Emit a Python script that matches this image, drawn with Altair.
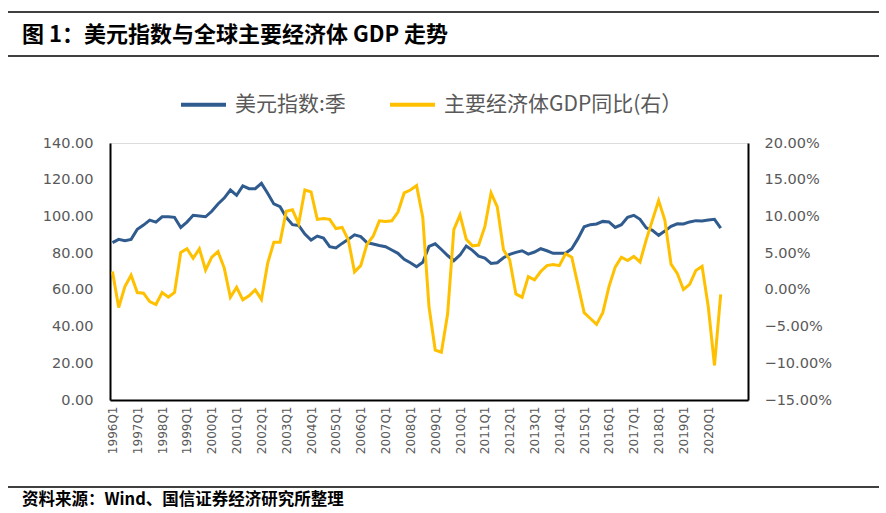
import altair as alt
import pandas as pd

# ---------------- data ----------------
quarters = [f"{y}Q{q}" for y in range(1996, 2022) for q in range(1, 5)][:103]
tick_labels = [f"{y}Q1" for y in range(1996, 2021)]

usd = [85.7, 87.5, 86.8, 87.5, 93.0, 95.3, 98.0, 96.9, 99.8, 99.8,
       99.5, 94.0, 96.9, 100.6, 100.2, 99.8, 102.8, 106.8, 110.0, 114.4,
       111.5, 116.6, 115.1, 115.1, 118.0, 112.6, 106.8, 105.3, 99.5, 95.5,
       95.1, 90.4, 87.1, 89.3, 88.2, 83.5, 82.8, 85.3, 87.5, 90.0,
       89.0, 85.7, 85.0, 84.2, 83.5, 81.7, 79.9, 76.6, 74.8, 72.6,
       75.0, 83.7, 85.1, 82.0, 78.7, 75.9, 79.0, 83.9, 81.5, 78.4,
       77.3, 74.4, 74.8, 77.5, 79.3, 80.4, 81.3, 79.5, 80.6, 82.4,
       81.3, 79.9, 79.9, 79.9, 82.4, 87.9, 94.4, 95.5, 95.9, 97.3,
       97.0, 94.0, 95.5, 99.5, 100.6, 98.4, 93.8, 92.4, 89.7, 92.0,
       94.6, 96.0, 95.9, 97.0, 97.7, 97.5, 98.0, 98.4, 93.6]

gdp = [2.5, -2.4, 0.45, 2.0, -0.36, -0.45, -1.6, -2.0, -0.36, -1.0,
       -0.36, 5.1, 5.6, 4.3, 5.6, 2.7, 4.45, 5.2, 3.0, -1.0,
       0.36, -1.36, -0.8, 0.0, -1.3, 3.6, 6.5, 6.5, 10.7, 10.9,
       9.0, 13.6, 13.35, 9.6, 9.7, 9.6, 8.35, 8.5, 6.8, 2.45,
       3.3, 6.2, 7.3, 9.4, 9.3, 9.4, 10.6, 13.2, 13.6, 14.2,
       9.85, -2.3, -8.2, -8.5, -3.3, 8.2, 10.2, 6.9, 6.0, 6.1,
       8.6, 13.2, 11.3, 5.45, 4.1, -0.55, -1.0, 1.8, 1.36, 2.5,
       3.3, 3.45, 3.3, 4.9, 4.45, 0.68, -3.1, -3.9, -4.7, -3.1,
       0.45, 3.1, 4.45, 4.0, 4.55, 3.8, 6.8, 9.5, 12.15, 9.5,
       3.5, 2.25, 0.05, 0.75, 2.65, 3.2, -2.3, -10.3, -0.6]

series_names = ["美元指数:季", "主要经济体GDP同比(右）"]
colors = ["#2F5B8E", "#FFC000"]
left_ticks = list(range(0, 141, 20))
right_ticks = list(range(-15, 21, 5))

title_text = "图 1：美元指数与全球主要经济体 GDP 走势"
source_text = "资料来源：Wind、国信证券经济研究所整理"

df_usd = pd.DataFrame({"q": quarters[:len(usd)], "v": usd, "s": series_names[0]})
df_gdp = pd.DataFrame({"q": quarters[:len(gdp)], "v": gdp, "s": series_names[1]})

GRAY = "#595959"
CJK = "Noto Sans CJK SC"

# ---------------- encodings ----------------
xenc = alt.X(
    "q:O",
    scale=alt.Scale(type="point", domain=quarters, padding=0.4),
    axis=alt.Axis(values=tick_labels, labelAngle=270, title=None, ticks=False,
                  domainColor="black", domainWidth=2, labelFont="DejaVu Sans",
                  labelFontSize=12, labelColor=GRAY, labelPadding=6),
)

color = alt.Color(
    "s:N",
    scale=alt.Scale(domain=series_names, range=colors),
    legend=alt.Legend(orient="none", direction="horizontal", legendX=69, legendY=-63,
                      title=None, symbolType="stroke", symbolSize=2025,
                      symbolStrokeWidth=4, labelFont=CJK, labelFontSize=21,
                      labelColor=GRAY, labelOffset=7, columnPadding=36,
                      labelLimit=400),
)

blue = alt.Chart(df_usd).mark_line(strokeWidth=3).encode(
    x=xenc,
    y=alt.Y("v:Q", scale=alt.Scale(domain=[0, 140]),
            axis=alt.Axis(values=left_ticks, format=".2f", title=None, ticks=False,
                          grid=False, domainColor="black", domainWidth=2,
                          labelFont="DejaVu Sans", labelFontSize=14.5,
                          labelColor=GRAY, labelPadding=17)),
    color=color,
)

gold = alt.Chart(df_gdp).mark_line(strokeWidth=3).encode(
    x=xenc,
    y=alt.Y("v:Q", scale=alt.Scale(domain=[-15, 20]),
            axis=alt.Axis(orient="right", values=right_ticks,
                          labelExpr="format(datum.value, '.2f') + '%'",
                          title=None, ticks=False, grid=False, domainColor="black",
                          domainWidth=2, labelFont="DejaVu Sans", labelFontSize=14.5,
                          labelColor=GRAY, labelPadding=16)),
    color=color,
)

# ---------------- decorations ----------------
deco_df = pd.DataFrame({"k": [0]})
rule_top = alt.Chart(deco_df).mark_rule(color="black", strokeWidth=1.5).encode(
    x=alt.value(-102), x2=alt.value(769), y=alt.value(-131))
rule_mid = alt.Chart(deco_df).mark_rule(color="black", strokeWidth=1.5).encode(
    x=alt.value(-102), x2=alt.value(769), y=alt.value(-87))
rule_bot = alt.Chart(deco_df).mark_rule(color="black", strokeWidth=1.5).encode(
    x=alt.value(-102), x2=alt.value(769), y=alt.value(344))

title_mark = alt.Chart(pd.DataFrame({"t": [title_text]})).mark_text(
    align="left", baseline="middle", font=CJK, fontSize=22, fontWeight="bold",
    color="black").encode(text="t:N", x=alt.value(-88), y=alt.value(-108))

source_mark = alt.Chart(pd.DataFrame({"t": [source_text]})).mark_text(
    align="left", baseline="middle", font=CJK, fontSize=16.5, fontWeight="bold",
    color="black").encode(text="t:N", x=alt.value(-88), y=alt.value(357))

lines = alt.layer(blue, gold).resolve_scale(y="independent")

chart = alt.layer(
    lines, rule_top, rule_mid, rule_bot, title_mark, source_mark
).properties(
    width=638, height=257,
    autosize=alt.AutoSizeParams(type="none"),
    padding={"left": 110, "top": 143, "right": 138, "bottom": 113},
).configure_view(stroke=None).configure(background="white")

chart.save("out.html", embed_options={"renderer": "svg", "actions": False})
